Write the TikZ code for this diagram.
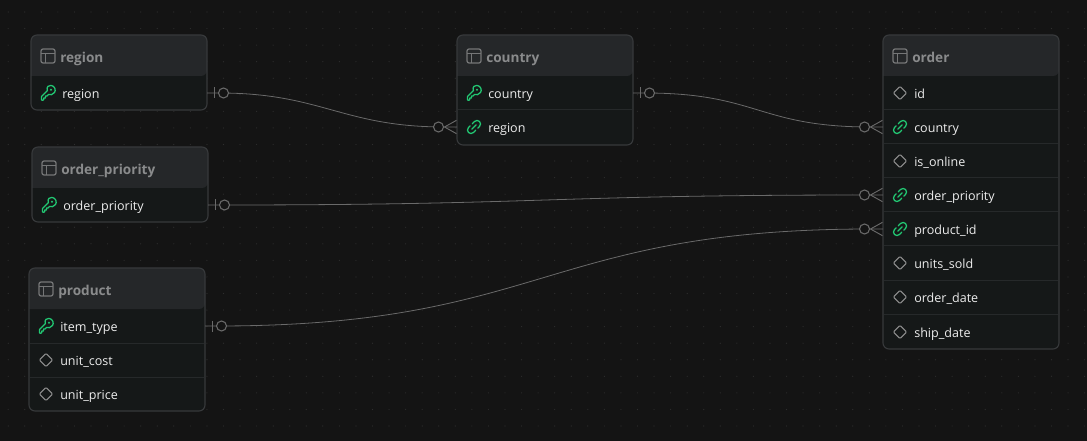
\documentclass[tikz,border=0pt]{standalone}
\usepackage{fontspec}
\usetikzlibrary{calc}
\setmainfont{Open Sans}
\definecolor{bgc}{HTML}{141414}
\definecolor{dotc}{HTML}{2E2E2E}
\definecolor{cardc}{HTML}{151818}
\definecolor{headc}{HTML}{252729}
\definecolor{edgec}{HTML}{37393B}
\definecolor{sepc}{HTML}{26292A}
\definecolor{titlec}{HTML}{8A8B8C}
\definecolor{rowc}{HTML}{EDEDED}
\definecolor{greenc}{HTML}{22C873}
\definecolor{wirec}{HTML}{6A6A6A}
\definecolor{diac}{HTML}{909090}
\tikzset{
 x=0.75pt,y=-0.75pt,
 titletext/.style={anchor=west,inner sep=0,text=titlec,font=\fontsize{10.2}{12}\selectfont\bfseries},
 rowtext/.style={anchor=west,inner sep=0,text=rowc,font=\fontsize{9.4}{12}\selectfont},
 wire/.style={draw=wirec,line width=0.6pt},
 keyicon/.pic={
  \draw[greenc,line width=0.95pt,line join=round] (-6.5,7) -- (-6.5,3.6) -- (-0.6,-2.4)
     .. controls (-2.2,-6.5) and (1.5,-8) .. (3,-7.6)
     .. controls (7,-7.2) and (8,-2.6) .. (6.6,-0.6)
     .. controls (5,2) and (2,2.2) .. (0.6,1.4) -- (-1,3) -- (-2.6,3) -- (-2.6,5) -- (-4.2,5) -- (-4.2,6.4) -- (-5.2,7.3) -- cycle;
  \fill[greenc] (3,-3.2) circle[radius=1.15];
 },
 linkicon/.pic={
  \begin{scope}[rotate=45]
   \draw[greenc,line width=0.95pt,line cap=round] (1,-3.5) -- (4.3,-3.5) arc[start angle=-90,end angle=90,radius=3.5] -- (2,3.5);
   \draw[greenc,line width=0.95pt,line cap=round] (-1,3.5) -- (-4.3,3.5) arc[start angle=90,end angle=270,radius=3.5] -- (-2,-3.5);
   \draw[greenc,line width=0.95pt,line cap=round] (-3,0) -- (3,0);
  \end{scope}
 },
 diamondicon/.pic={
  \draw[diac,line width=0.8pt,line join=round,rounded corners=0.8pt] (0,-6.7) -- (6.7,0) -- (0,6.7) -- (-6.7,0) -- cycle;
 },
 tableicon/.pic={
  \draw[titlec!85!black,line width=0.95pt,rounded corners=1.6pt] (-7,-7) rectangle (7,7);
  \draw[titlec!85!black,line width=0.95pt] (-7,-2.3) -- (7,-2.3) (-2.3,-2.3) -- (-2.3,7);
 },
 onezero/.pic={
  \draw[wirec,line width=0.7pt] (0,-5.5) -- (0,5.5);
  \draw[wirec,line width=0.8pt,fill=bgc] (9.5,0) circle[radius=5];
 },
 manyzero/.pic={
  \draw[wirec,line width=0.7pt] (0,0) -- (12,-6.7) (0,0) -- (12,6.7);
  \draw[wirec,line width=0.8pt,fill=bgc] (-6,0) circle[radius=5];
 },
}
% #1 name, #2 left, #3 top, #4 right, #5 bottom, #6 title
\newcommand{\erbox}[6]{
  \fill[cardc,rounded corners=4.5pt] (#2,#3) rectangle (#4,#5);
  \fill[headc,rounded corners=4.5pt] (#2,#3+41) -- (#2,#3) -- (#4,#3) -- (#4,#3+41) [sharp corners] -- cycle;
  \node[draw=edgec,line width=0.85pt,rounded corners=4.5pt,inner sep=0,outer sep=0,fill=none,
        minimum width={(#4-#2)*0.75pt},minimum height={(#5-#3)*0.75pt},anchor=north west] (#1) at (#2,#3) {};
  \pic at (#2+17,#3+21) {tableicon};
  \node[titletext] (#1-title) at (#2+29,#3+24.3) {\strut #6};
}
% #1 name, #2 left of box, #3 centre y, #4 icon, #5 text, #6 right of box
\newcommand{\errow}[6]{
  \pic at (#2+17,#3) {#4};
  \node[rowtext] (#1) at (#2+31,#3+2.4) {\strut #5};
  \coordinate (#1-l) at (#2,#3);
  \coordinate (#1-r) at (#6,#3);
}
\newcommand{\ersep}[3]{\draw[sepc,line width=0.85pt] (#1+1,#3) -- (#2-1,#3);}
% #1 source row, #2 target row, #3 control offset
\newcommand{\erlink}[3]{
  \draw[wire] (#1-r) -- ($(#1-r)+(12,0)$) .. controls ($(#1-r)+(#3,0)$) and ($(#2-l)+(-#3,0)$) .. ($(#2-l)+(-12,0)$) -- (#2-l);
  \pic at ($(#1-r)+(7,0)$) {onezero};
  \pic at ($(#2-l)+(-12.5,0)$) {manyzero};
}
\begin{document}
\begin{tikzpicture}
\useasboundingbox (0,0) rectangle (1087,441);
\fill[bgc] (0,0) rectangle (1087,441);
\foreach \i in {0,...,65}{\foreach \j in {0,...,26}{
  \fill[dotc] (8.2+16.56*\i,12+16.56*\j) circle[radius=0.6];
}}
% region
\erbox{region}{31}{35}{207}{110}{region}
\errow{rRegion}{31}{93}{keyicon}{region}{207}
% order_priority
\erbox{opbox}{32}{147}{208}{222}{order\_priority}
\errow{opKey}{32}{205}{keyicon}{order\_priority}{208}
% product
\erbox{prod}{29}{268}{205}{411}{product}
\errow{pType}{29}{326}{keyicon}{item\_type}{205}
\ersep{29}{205}{343.5}
\errow{pCost}{29}{360}{diamondicon}{unit\_cost}{205}
\ersep{29}{205}{377.5}
\errow{pPrice}{29}{394}{diamondicon}{unit\_price}{205}
% country
\erbox{ctry}{457}{35}{633}{145}{country}
\errow{cKey}{457}{93}{keyicon}{country}{633}
\ersep{457}{633}{109.5}
\errow{cRegion}{457}{127}{linkicon}{region}{633}
% order
\erbox{ord}{883}{35}{1059}{349}{order}
\errow{oId}{883}{93}{diamondicon}{id}{1059}
\ersep{883}{1059}{109.5}
\errow{oCountry}{883}{127}{linkicon}{country}{1059}
\ersep{883}{1059}{143.5}
\errow{oOnline}{883}{161}{diamondicon}{is\_online}{1059}
\ersep{883}{1059}{177.5}
\errow{oPrio}{883}{195}{linkicon}{order\_priority}{1059}
\ersep{883}{1059}{211.5}
\errow{oProd}{883}{229}{linkicon}{product\_id}{1059}
\ersep{883}{1059}{245.5}
\errow{oUnits}{883}{263}{diamondicon}{units\_sold}{1059}
\ersep{883}{1059}{280.5}
\errow{oDate}{883}{297}{diamondicon}{order\_date}{1059}
\ersep{883}{1059}{314.5}
\errow{oShip}{883}{332}{diamondicon}{ship\_date}{1059}
% connectors
\erlink{rRegion}{cRegion}{115}
\erlink{cKey}{oCountry}{125}
\erlink{opKey}{oPrio}{340}
\erlink{pType}{oProd}{340}
\end{tikzpicture}
\end{document}
